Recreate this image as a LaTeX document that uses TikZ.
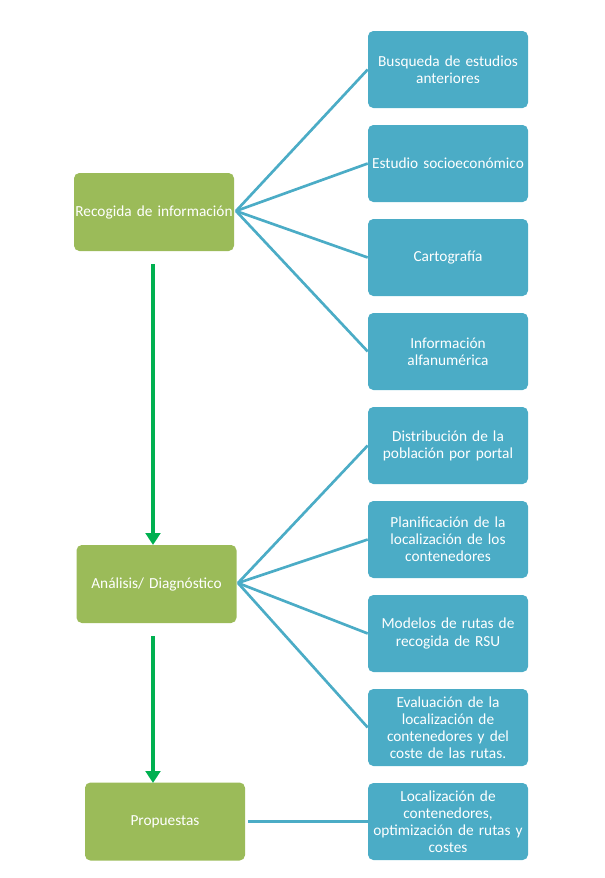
\documentclass[tikz,border=0pt]{standalone}
\usepackage{fontspec}
\setmainfont{Carlito}
\usetikzlibrary{arrows.meta}
\definecolor{olive}{HTML}{9BBB59}
\definecolor{aqua}{HTML}{4BACC6}
\definecolor{arrgreen}{HTML}{00B050}
\tikzset{
  bluebox/.style={fill=aqua, rounded corners=4pt, minimum width=120pt, minimum height=57.75pt, text width=118pt, align=center, text=white, font=\fontsize{11.5}{12.8}\selectfont, inner sep=1pt},
  greenbox/.style={fill=olive, rounded corners=4pt, minimum width=120pt, minimum height=58.5pt, text width=118pt, align=center, text=white, font=\fontsize{11.5}{12.8}\selectfont, inner sep=1pt},
  conn/.style={draw=aqua, line width=2pt},
  flow/.style={draw=arrgreen, line width=3pt, -{Triangle[width=11pt,length=9pt]}}
}
\begin{document}
\begin{tikzpicture}[x=0.75pt,y=-0.75pt]
\useasboundingbox (0,0) rectangle (604,878);
\node[greenbox] (g1) at (154,212) {Recogida de información};
\node[greenbox] (g2) at (156.5,584) {Análisis/ Diagnóstico};
\node[greenbox] (g3) at (165,821.5) {Propuestas};
\node[bluebox] (b1) at (448,69.5) {Busqueda de estudios\\anteriores};
\node[bluebox] (b2) at (448,163.5) {Estudio socioeconómico};
\node[bluebox] (b3) at (448,257.5) {Cartografía};
\node[bluebox] (b4) at (448,351.5) {Información\\alfanumérica};
\node[bluebox] (b5) at (448,445.5) {Distribución de la\\población por portal};
\node[bluebox] (b6) at (448,539.5) {Planificación de la\\localización de los\\contenedores};
\node[bluebox] (b7) at (448,633.5) {Modelos de rutas de\\recogida de RSU};
\node[bluebox] (b8) at (448,727.5) {Evaluación de la\\localización de\\contenedores y del\\coste de las rutas.};
\node[bluebox] (b9) at (448,821.5) {Localización de\\contenedores,\\optimización de rutas y\\costes};
\coordinate (s1) at (236,211);
\coordinate (s2) at (238,583);
\coordinate (s3) at (248,821.5);
\foreach \b in {b1,b2,b3,b4} \draw[conn] (s1) -- (\b.west);
\foreach \b in {b5,b6,b7,b8} \draw[conn] (s2) -- (\b.west);
\draw[conn] (s3) -- (b9.west);
\coordinate (a1s) at (153,264);
\coordinate (a1e) at (153,545);
\coordinate (a2s) at (153,636);
\coordinate (a2e) at (153,783);
\draw[flow] (a1s) -- (a1e);
\draw[flow] (a2s) -- (a2e);
\end{tikzpicture}
\end{document}
